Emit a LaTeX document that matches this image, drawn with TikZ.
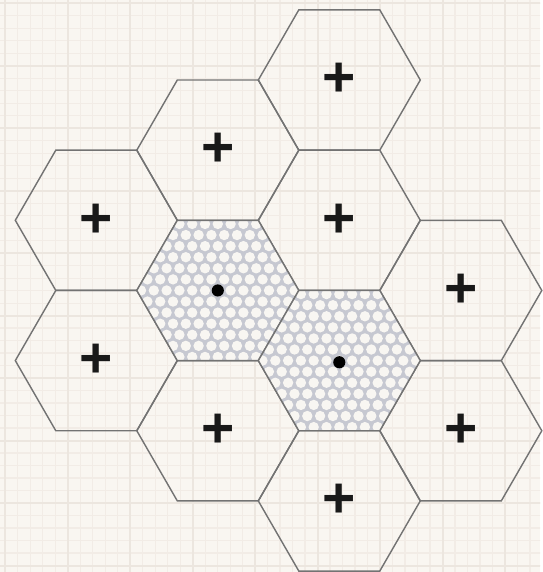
\documentclass[tikz,border=0pt]{standalone}
\usepackage{fontspec}
\setsansfont{Liberation Sans}
\usetikzlibrary{shapes.geometric}
\definecolor{paper}{RGB}{249,246,241}
\definecolor{gridminor}{RGB}{242,236,230}
\definecolor{gridmajor}{RGB}{236,230,223}
\definecolor{hexline}{RGB}{115,115,115}
\definecolor{mesh}{RGB}{198,200,209}
\definecolor{meshhole}{RGB}{248,246,242}

\begin{document}
\begin{tikzpicture}[
    hexcell/.style={regular polygon, regular polygon sides=6, minimum size=2cm,
      inner sep=0pt, outer sep=0pt, draw=hexline, line width=0.5pt,
      font=\sffamily\bfseries\fontsize{20}{20}\selectfont, text=black!90},
    meshcell/.style={hexcell, path picture={
        \fill[mesh] (path picture bounding box.south west) rectangle (path picture bounding box.north east);
        \foreach \j in {-7,...,7}{
          \foreach \i in {-7,...,7}{
            \fill[meshhole, shift={(path picture bounding box.center)}]
              ({(\i+0.5*mod(abs(\j),2))*\meshstep},{\j*0.866*\meshstep}) circle (0.064);
          }
        }
      }},
    token/.style={circle, fill=black, minimum size=0.15cm, inner sep=0pt},
]

\def\picw{6.667}
\def\pich{7.062}
\def\meshstep{0.158}
\def\xo{1.189}
\def\yo{-0.988}
\def\dx{1.5}
\def\dy{0.866}

% ===== Paper =====
\fill[paper] (0,0) rectangle (\picw,-\pich);
\begin{scope}
  \clip (0,0) rectangle (\picw,-\pich);
  \begin{scope}[shift={(0.064,-0.0395)}]
    \draw[gridminor, line width=0.45pt, step=0.1543] (-1,-8) grid (8,1);
    \draw[gridmajor, line width=0.75pt, step=0.7716] (-1,-8) grid (8,1);
  \end{scope}
\end{scope}

% ===== Empty cells =====
\foreach \c/\h in {2/0, 1/1, 0/2, 2/2, 3/3, 0/4, 1/5, 3/5, 2/6}{
  \node[hexcell] (h\c\h) at ({\xo+\dx*\c},{\yo-\dy*\h}) {+};
}

% ===== Occupied cells =====
\node[meshcell] (h13) at ({\xo+\dx*1},{\yo-\dy*3}) {};
\node[meshcell] (h24) at ({\xo+\dx*2},{\yo-\dy*4}) {};
\node[token] (dotA) at (h13.center) {};
\node[token] (dotB) at ([yshift=-0.02cm]h24.center) {};

\end{tikzpicture}
\end{document}
